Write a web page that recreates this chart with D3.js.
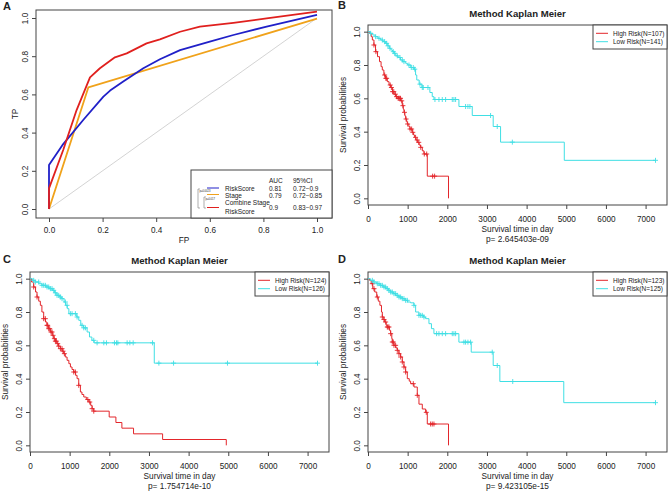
<!DOCTYPE html>
<html>
<head>
<meta charset="utf-8">
<script src="https://cdn.jsdelivr.net/npm/d3@7"></script>
<style>
	body { margin: 0; background: #fff; }
	svg { display: block; }
	text { font-family: "Liberation Sans", Arial, sans-serif; fill: #222; }
</style>
</head>
<body>
<svg id="chart" width="669" height="492"></svg>
<script>
// ---- panel A: ROC curves ----
var rocTicks = [0, 0.2, 0.4, 0.6, 0.8, 1.0];
var riskFP = [0, 0, 0.053, 0.13, 0.203, 0.228, 0.277, 0.352, 0.414, 0.489, 0.6, 0.688, 0.812, 1.0];
var riskTP = [0, 0.23, 0.34, 0.47, 0.588, 0.62, 0.667, 0.737, 0.784, 0.832, 0.876, 0.911, 0.955, 1.016];
var stageFP = [0, 0.147, 1.0];
var stageTP = [0, 0.637, 0.997];
var combFP = [0, 0, 0.053, 0.103, 0.153, 0.19, 0.246, 0.29, 0.34, 0.364, 0.414, 0.489, 0.563, 0.688, 0.812, 1.0];
var combTP = [0, 0.108, 0.309, 0.518, 0.689, 0.737, 0.794, 0.815, 0.85, 0.867, 0.888, 0.928, 0.955, 0.975, 0.998, 1.033];
var rocNames = ["RiskScore", "Stage", "Combine Stage\nRiskScore"];
var rocAUC = ["0.81", "0.79", "0.9"];
var rocCI = ["0.72\u22120.9", "0.72\u22120.85", "0.83\u22120.97"];
var rocPvals = ["p=0.0023", "p=0.017"];

// ---- panels B, C, D: Kaplan Meier ----
var timeTicks = [0, 1000, 2000, 3000, 4000, 5000, 6000, 7000];
var survTicks = [0, 0.2, 0.4, 0.6, 0.8, 1.0];

var bHighTime = [30, 80, 110, 150, 190, 240, 290, 330, 361, 400, 440, 487, 530, 571, 620, 655, 700, 760, 823, 865, 890, 907, 930, 949, 975, 991, 1030, 1058, 1117, 1150, 1176, 1210, 1243, 1290, 1327, 1370, 1411, 1495, 2030];
var bHighSurv = [0.99, 0.97, 0.95, 0.92, 0.88, 0.85, 0.82, 0.79, 0.77, 0.74, 0.72, 0.70, 0.68, 0.665, 0.64, 0.625, 0.61, 0.60, 0.585, 0.556, 0.535, 0.516, 0.495, 0.476, 0.46, 0.446, 0.43, 0.416, 0.396, 0.38, 0.366, 0.35, 0.336, 0.32, 0.306, 0.285, 0.266, 0.133, 0];
var bHighCens = [150, 200, 420, 450, 470, 560, 590, 620, 650, 690, 720, 760, 780, 800, 820, 850, 880, 920, 960, 1000, 1060, 1100, 1130, 1200, 1240, 1280, 1330, 1420, 1480, 1630, 1680];
var bLowTime = [60, 120, 180, 250, 320, 380, 440, 500, 540, 580, 620, 660, 700, 760, 820, 870, 950, 1000, 1080, 1160, 1200, 1230, 1290, 1360, 1560, 1620, 1663, 2293, 2629, 3157, 3343, 4950];
var bLowSurv = [0.99, 0.98, 0.97, 0.96, 0.95, 0.94, 0.93, 0.915, 0.90, 0.89, 0.88, 0.87, 0.855, 0.845, 0.83, 0.82, 0.81, 0.80, 0.785, 0.775, 0.74, 0.71, 0.685, 0.665, 0.635, 0.61, 0.593, 0.551, 0.497, 0.431, 0.337, 0.228];
var bLowCens = [67, 193, 277, 361, 420, 470, 504, 554, 638, 672, 739, 806, 865, 907, 1033, 1092, 1142, 1180, 1310, 1369, 1394, 1512, 1688, 1789, 1873, 1957, 2125, 2167, 2209, 2461, 2520, 2570, 3091, 3259, 3640, 7250];

var cHighTime = [40, 93, 140, 177, 220, 261, 300, 345, 390, 429, 470, 514, 560, 598, 640, 682, 720, 766, 810, 850, 890, 935, 980, 1019, 1060, 1103, 1150, 1187, 1229, 1271, 1310, 1356, 1420, 1482, 1530, 1566, 1608, 1997, 2166, 2317, 2611, 3344, 4950];
var cHighSurv = [0.98, 0.95, 0.92, 0.89, 0.865, 0.84, 0.80, 0.76, 0.74, 0.72, 0.70, 0.68, 0.66, 0.64, 0.625, 0.61, 0.595, 0.58, 0.565, 0.55, 0.53, 0.51, 0.49, 0.47, 0.455, 0.44, 0.42, 0.40, 0.36, 0.32, 0.305, 0.29, 0.275, 0.26, 0.24, 0.22, 0.205, 0.17, 0.137, 0.103, 0.069, 0.035, 0];
var cHighCens = [93, 177, 345, 387, 429, 446, 472, 497, 530, 556, 581, 615, 640, 665, 699, 724, 766, 808, 834, 867, 1103, 1145, 1229, 1457, 1507, 1566, 1608];
var cLowTime = [60, 130, 220, 300, 400, 480, 560, 620, 680, 740, 800, 860, 900, 940, 980, 1180, 1230, 1280, 1350, 1440, 1500, 1560, 1617, 3134];
var cLowSurv = [0.99, 0.98, 0.97, 0.96, 0.95, 0.94, 0.93, 0.915, 0.90, 0.89, 0.88, 0.86, 0.84, 0.82, 0.79, 0.77, 0.75, 0.72, 0.705, 0.68, 0.65, 0.63, 0.615, 0.493];
var cLowCens = [93, 135, 219, 303, 345, 387, 429, 472, 514, 556, 598, 640, 682, 724, 766, 808, 893, 935, 1019, 1061, 1145, 1187, 1313, 1356, 1398, 1608, 1692, 1861, 1928, 2130, 2181, 2215, 2450, 2518, 2602, 3090, 3250, 3620, 4980, 7250];

var dHighTime = [40, 80, 120, 170, 220, 260, 300, 340, 361, 400, 420, 460, 487, 540, 571, 600, 613, 655, 700, 739, 780, 823, 865, 907, 949, 991, 1040, 1075, 1159, 1243, 1285, 1369, 1453, 1495, 2030];
var dHighSurv = [0.99, 0.97, 0.94, 0.92, 0.89, 0.865, 0.84, 0.80, 0.77, 0.755, 0.74, 0.72, 0.71, 0.69, 0.67, 0.64, 0.62, 0.60, 0.585, 0.57, 0.55, 0.53, 0.50, 0.47, 0.44, 0.40, 0.385, 0.37, 0.35, 0.30, 0.247, 0.218, 0.198, 0.128, 0];
var dHighCens = [109, 151, 235, 361, 403, 445, 487, 504, 529, 571, 613, 638, 655, 697, 739, 781, 823, 865, 907, 949, 1142, 1243, 1470, 1579, 1621, 1663];
var dLowTime = [60, 140, 220, 300, 380, 450, 520, 571, 640, 700, 780, 860, 930, 1000, 1075, 1159, 1201, 1285, 1400, 1453, 1537, 1600, 1662, 2292, 2603, 3157, 3325, 4937];
var dLowSurv = [0.99, 0.98, 0.97, 0.96, 0.95, 0.94, 0.93, 0.92, 0.91, 0.90, 0.89, 0.88, 0.87, 0.86, 0.855, 0.84, 0.80, 0.78, 0.77, 0.76, 0.73, 0.70, 0.67, 0.619, 0.559, 0.479, 0.383, 0.256];
var dLowCens = [109, 151, 235, 277, 319, 361, 403, 445, 487, 529, 571, 613, 655, 697, 739, 781, 823, 865, 907, 949, 991, 1159, 1285, 1327, 1369, 1411, 1730, 1789, 1873, 1957, 2125, 2167, 2209, 2419, 2461, 2520, 2587, 3133, 3259, 3650, 7250];

var bLegend = ["High Risk(N=107)", "Low Risk(N=141)"];
var cLegend = ["High Risk(N=124)", "Low Risk(N=126)"];
var dLegend = ["High Risk(N=123)", "Low Risk(N=125)"];
var bPval = "p= 2.645403e-09";
var cPval = "p= 1.754714e-10";
var dPval = "p= 9.423105e-15";

var HIGH = "#e3262b", LOW = "#3fdfe4";
var FRAME = "#444";
var svg = d3.select("#chart");

// R style axes: ticks outside the box, y labels turned along the axis
function drawAxes(g, x, y, xticks, yticks, xfmt, yfmt, pad) {
	var xb = y.range()[0];
	var yl = x.range()[0];
	g.append("g").attr("transform", "translate(0," + xb + ")")
		.call(d3.axisBottom(x).tickValues(xticks).tickFormat(xfmt).tickSize(4).tickPadding(pad))
		.call(a => a.select(".domain").remove());
	g.append("g").attr("transform", "translate(" + yl + ",0)")
		.call(d3.axisLeft(y).tickValues(yticks).tickFormat(yfmt).tickSize(4))
		.call(a => a.select(".domain").remove())
		.call(a => a.selectAll(".tick text")
			.attr("x", null).attr("dy", null)
			.attr("transform", "translate(-8,0) rotate(-90)")
			.attr("text-anchor", "middle"));
	g.selectAll(".tick line").attr("stroke", FRAME);
	g.selectAll(".tick text").style("font-size", "8.2px").attr("fill", "#222");
}

// ---------------- panel A ----------------
function rocPanel() {
	var g = svg.append("g");
	var box = {l: 36, t: 10, r: 332, b: 218};
	var x = d3.scaleLinear().domain([0, 1]).range([49, 317]);
	var y = d3.scaleLinear().domain([0, 1]).range([209, 18]);
	g.append("rect").attr("x", box.l).attr("y", box.t).attr("width", box.r - box.l).attr("height", box.b - box.t)
		.attr("fill", "none").attr("stroke", FRAME).attr("stroke-width", 1);

	var ax = g.append("g");
	ax.append("g").attr("transform", "translate(0," + box.b + ")")
		.call(d3.axisBottom(x).tickValues(rocTicks).tickFormat(d3.format(".1f")).tickSize(4).tickPadding(5))
		.call(a => a.select(".domain").remove());
	ax.append("g").attr("transform", "translate(" + box.l + ",0)")
		.call(d3.axisLeft(y).tickValues(rocTicks).tickFormat(d3.format(".1f")).tickSize(4))
		.call(a => a.select(".domain").remove())
		.call(a => a.selectAll(".tick text")
			.attr("x", null).attr("dy", null)
			.attr("transform", "translate(-8,0) rotate(-90)")
			.attr("text-anchor", "middle"));
	ax.selectAll(".tick line").attr("stroke", FRAME);
	ax.selectAll(".tick text").style("font-size", "8.2px").attr("fill", "#222");

	var line = d3.line().x(d => x(d[0])).y(d => y(d[1]));
	g.append("path").attr("d", line([[0, 0], [1, 1]])).attr("fill", "none").attr("stroke", "#c8c8c8").attr("stroke-width", 0.8);
	var curves = [
		{fp: stageFP, tp: stageTP, c: "#f0a21a"},
		{fp: riskFP, tp: riskTP, c: "#2020c8"},
		{fp: combFP, tp: combTP, c: "#e0201e"}
	];
	curves.forEach(function(cv) {
		g.append("path").attr("d", line(d3.zip(cv.fp, cv.tp)))
			.attr("fill", "none").attr("stroke", cv.c).attr("stroke-width", 1.8).attr("stroke-linejoin", "round");
	});

	g.append("text").attr("x", 3).attr("y", 10).text("A").style("font-size", "11px").style("font-weight", "bold");
	g.append("text").attr("x", (box.l + box.r) / 2).attr("y", 243).attr("text-anchor", "middle").text("FP").style("font-size", "8.3px");
	g.append("text").attr("transform", "translate(18," + (box.t + box.b) / 2 + ") rotate(-90)").attr("text-anchor", "middle").text("TP").style("font-size", "8.3px");

	// legend with AUC table
	var lg = g.append("g");
	lg.append("rect").attr("x", 191).attr("y", 170).attr("width", box.r - 191).attr("height", box.b - 170)
		.attr("fill", "#fff").attr("stroke", FRAME);
	var fs = "6.5px";
	lg.append("text").attr("x", 269).attr("y", 182.5).text("AUC").style("font-size", fs);
	lg.append("text").attr("x", 293).attr("y", 182.5).text("95%CI").style("font-size", fs);
	var cols = ["#2020c8", "#f0a21a", "#e0201e"];
	var lineY = [188, 194.5, 207.5];
	var nameY = [[191], [198], [205, 213.5]];
	var valY = [191, 198, 209.5];
	rocNames.forEach(function(n, i) {
		lg.append("line").attr("x1", 207).attr("x2", 219).attr("y1", lineY[i]).attr("y2", lineY[i])
			.attr("stroke", cols[i]).attr("stroke-width", 1);
		n.split("\n").forEach(function(part, j) {
			lg.append("text").attr("x", 225).attr("y", nameY[i][j]).text(part).style("font-size", fs);
		});
		lg.append("text").attr("x", 269).attr("y", valY[i]).text(rocAUC[i]).style("font-size", fs);
		lg.append("text").attr("x", 293).attr("y", valY[i]).text(rocCI[i]).style("font-size", fs);
	});
	// significance brackets
	lg.append("path").attr("d", "M200,189H198V208H200").attr("fill", "none").attr("stroke", "#777").attr("stroke-width", 0.6);
	lg.append("path").attr("d", "M206,197H204V208H206").attr("fill", "none").attr("stroke", "#777").attr("stroke-width", 0.6);
	lg.append("text").attr("x", 199.5).attr("y", 192).text(rocPvals[0]).style("font-size", "2.6px").attr("fill", "#555");
	lg.append("text").attr("x", 205.5).attr("y", 200).text(rocPvals[1]).style("font-size", "2.6px").attr("fill", "#555");
}

// survival value at time t of a step curve
function survAt(times, surv, t) {
	var s = 1;
	for (var i = 0; i < times.length; i++) {
		if (times[i] <= t) s = surv[i];
	}
	return s;
}

// ---------------- panels B, C, D ----------------
function kmPanel(opt) {
	var g = svg.append("g");
	var box = opt.box;
	var x = d3.scaleLinear().domain([0, 7540]).range([box.l, box.r]);
	var y = d3.scaleLinear().domain([-0.04, 1.04]).range([box.b, box.t]);

	g.append("rect").attr("x", box.l).attr("y", box.t).attr("width", box.r - box.l).attr("height", box.b - box.t)
		.attr("fill", "none").attr("stroke", FRAME).attr("stroke-width", 1);
	drawAxes(g.append("g"), x, y, timeTicks, survTicks, d3.format("d"), d3.format(".1f"), 7);

	var line = d3.line().x(d => x(d[0])).y(d => y(d[1])).curve(d3.curveStepAfter);
	opt.curves.forEach(function(cv) {
		var end = Math.max(d3.max(cv.time), d3.max(cv.cens));
		var pts = [[0, 1]].concat(d3.zip(cv.time, cv.surv));
		if (pts[pts.length - 1][1] > 0) pts.push([end, pts[pts.length - 1][1]]);
		g.append("path").attr("d", line(pts)).attr("fill", "none").attr("stroke", cv.c).attr("stroke-width", 1);
		g.append("g").selectAll("path").data(cv.cens).enter()
			.append("path")
			.attr("transform", d => "translate(" + x(d) + "," + y(survAt(cv.time, cv.surv, d)) + ")")
			.attr("d", "M-2.5,0H2.5M0,-2.5V2.5")
			.attr("stroke", cv.c).attr("stroke-width", 0.9);
	});

	var cx = (box.l + box.r) / 2;
	g.append("text").attr("x", opt.lx).attr("y", opt.ly).text(opt.letter).style("font-size", "11px").style("font-weight", "bold");
	g.append("text").attr("x", cx).attr("y", box.t - 8).attr("text-anchor", "middle").text("Method Kaplan Meier")
		.style("font-size", "9.6px").style("font-weight", "bold");
	g.append("text").attr("x", cx).attr("y", box.b + 27).attr("text-anchor", "middle").text("Survival time in day").style("font-size", "8.3px");
	g.append("text").attr("x", cx).attr("y", box.b + 37).attr("text-anchor", "middle").text(opt.pval).style("font-size", "8.3px");
	g.append("text").attr("transform", "translate(" + (box.l - 22) + "," + (box.t + box.b) / 2 + ") rotate(-90)")
		.attr("text-anchor", "middle").text("Survival probabilities").style("font-size", "8.3px");

	// legend, top right inside the box
	var lg = g.append("g");
	var lw = 74, lh = 24;
	lg.append("rect").attr("x", box.r - lw).attr("y", box.t).attr("width", lw).attr("height", lh)
		.attr("fill", "#fff").attr("stroke", FRAME);
	opt.legend.forEach(function(t, i) {
		var ly = box.t + 8.3 + i * 8.4;
		lg.append("line").attr("x1", box.r - lw + 3).attr("x2", box.r - lw + 15).attr("y1", ly).attr("y2", ly)
			.attr("stroke", i ? LOW : HIGH).attr("stroke-width", 1);
		lg.append("text").attr("x", box.r - lw + 20).attr("y", ly + 2.3).text(t).style("font-size", "6.5px");
	});
}

rocPanel();
kmPanel({letter: "B", lx: 338, ly: 9, box: {l: 368, t: 25, r: 667, b: 205}, legend: bLegend, pval: bPval,
	curves: [{time: bHighTime, surv: bHighSurv, cens: bHighCens, c: HIGH}, {time: bLowTime, surv: bLowSurv, cens: bLowCens, c: LOW}]});
kmPanel({letter: "C", lx: 3, ly: 263, box: {l: 30, t: 272, r: 329, b: 452}, legend: cLegend, pval: cPval,
	curves: [{time: cHighTime, surv: cHighSurv, cens: cHighCens, c: HIGH}, {time: cLowTime, surv: cLowSurv, cens: cLowCens, c: LOW}]});
kmPanel({letter: "D", lx: 338, ly: 263, box: {l: 368, t: 272, r: 667, b: 452}, legend: dLegend, pval: dPval,
	curves: [{time: dHighTime, surv: dHighSurv, cens: dHighCens, c: HIGH}, {time: dLowTime, surv: dLowSurv, cens: dLowCens, c: LOW}]});
</script>
</body>
</html>
